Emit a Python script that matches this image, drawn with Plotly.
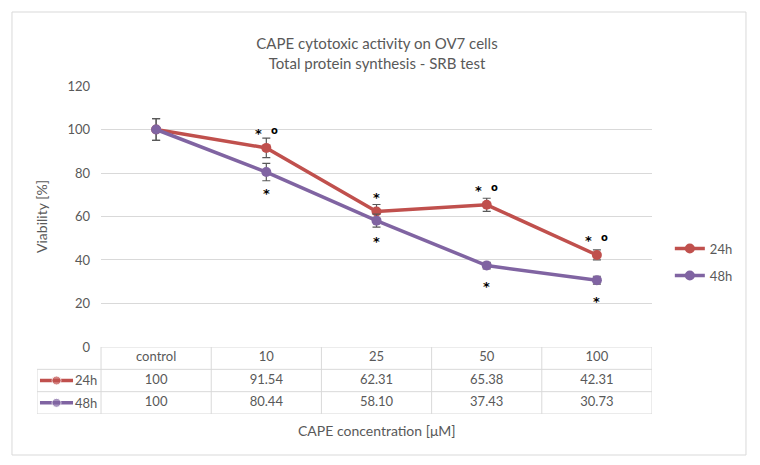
import plotly.graph_objects as go

# --- DATA ---
conc = ["control", "10", "25", "50", "100"]
series = ["24h", "48h"]
v24 = [100, 91.54, 62.31, 65.38, 42.31]
v48 = [100, 80.44, 58.10, 37.43, 30.73]
err24 = [5, 4.5, 3.2, 3, 2.3]
err48 = [5, 4, 3, 1.5, 1.8]
# significance marks: * vs control, o vs 48h
sig24 = ["", "* o", "*", "* o", "* o"]
sig48 = ["", "*", "*", "*", "*"]
yticks = [0, 20, 40, 60, 80, 100, 120]

# --- STYLE ---
COLORS = {"24h": "#C0504D", "48h": "#8064A2"}
GREY = "#595959"
GRID = "#D9D9D9"
FONT = "Lato"

xs = list(range(len(conc)))
vals = {"24h": v24, "48h": v48}
errs = {"24h": err24, "48h": err48}
sigs = {"24h": sig24, "48h": sig48}
sig_dir = {"24h": 1, "48h": -1}   # marks above / below the points
row_of = {"24h": 1, "48h": 0}     # table rows (header = 2)
KEY_LEFT = -1.081                  # left edge of legend-key column of the table

fig = go.Figure()

# --- main lines ---
for s in series:
    fig.add_trace(go.Scatter(
        x=xs, y=vals[s], name=s, legendgroup=s,
        mode="lines+markers",
        line=dict(color=COLORS[s], width=3.5),
        marker=dict(color=COLORS[s], size=10),
        error_y=dict(type="data", array=errs[s], color=GREY, thickness=1.2, width=4),
        xaxis="x", yaxis="y",
    ))
    # significance marks
    for x, v, mark in zip(xs, vals[s], sigs[s]):
        both = "*" in mark and "o" in mark
        if "*" in mark:
            ys = 14 if sig_dir[s] > 0 else -21
            fig.add_annotation(x=x, y=v, xref="x", yref="y", text="<b>*</b>", showarrow=False,
                               xshift=-8 if both else 0, yshift=ys,
                               font=dict(family="DejaVu Sans", size=13, color="black"))
        if "o" in mark:
            fig.add_annotation(x=x, y=v, xref="x", yref="y", text="<b>o</b>", showarrow=False,
                               xshift=8, yshift=17,
                               font=dict(family="DejaVu Sans", size=10, color="black"))

# --- data table below ---
fig.add_trace(go.Scatter(
    x=xs, y=[2] * len(conc), text=conc, mode="text",
    textfont=dict(family=FONT, size=13, color=GREY),
    xaxis="x2", yaxis="y2", showlegend=False, hoverinfo="skip",
))
for s in series:
    fig.add_trace(go.Scatter(
        x=xs, y=[row_of[s]] * len(conc),
        text=["100" if v == 100 else f"{v:.2f}" for v in vals[s]],
        mode="text", textfont=dict(family=FONT, size=13, color=GREY),
        xaxis="x2", yaxis="y2", showlegend=False, hoverinfo="skip",
    ))
    # legend key in the table's first column
    fig.add_trace(go.Scatter(
        x=[-1.054, -0.904, -0.754], y=[row_of[s]] * 3,
        mode="lines+markers", line=dict(color=COLORS[s], width=3.5),
        marker=dict(color=COLORS[s], size=[0, 9, 0]),
        xaxis="x2", yaxis="y2", showlegend=False, hoverinfo="skip",
    ))
    fig.add_annotation(x=-0.754, y=row_of[s], xref="x2", yref="y2", text=s,
                       showarrow=False, xanchor="left",
                       font=dict(family=FONT, size=13, color=GREY))

# table borders
line = dict(color=GRID, width=1)
fig.add_shape(type="line", xref="x2", yref="y2", x0=-0.5, x1=4.5, y0=2.5, y1=2.5, line=line)
for yb in [1.5, 0.5, -0.5]:
    fig.add_shape(type="line", xref="x2", yref="y2", x0=KEY_LEFT, x1=4.5, y0=yb, y1=yb, line=line)
fig.add_shape(type="line", xref="x2", yref="y2", x0=KEY_LEFT, x1=KEY_LEFT, y0=-0.5, y1=1.5, line=line)
for xb in [i - 0.5 for i in range(len(conc) + 1)]:
    fig.add_shape(type="line", xref="x2", yref="y2", x0=xb, x1=xb, y0=-0.5, y1=2.5, line=line)

# outer chart frame
fig.add_shape(type="rect", xref="paper", yref="paper",
              x0=-0.0407, x1=1.1528, y0=-0.125, y1=1.2256,
              line=dict(color=GRID, width=1), layer="below")

fig.add_annotation(x=2, y=0, xref="x2", yref="paper", yanchor="top", yshift=-6,
                   text="CAPE concentration [\u03bcM]", showarrow=False,
                   font=dict(family=FONT, size=14, color=GREY))

fig.update_layout(
    width=752, height=457,
    margin=dict(l=29, r=108, t=78, b=51),
    paper_bgcolor="white", plot_bgcolor="white",
    font=dict(family=FONT, size=13, color=GREY),
    title=dict(text="CAPE cytotoxic activity on OV7 cells<br>Total protein synthesis - SRB test",
               x=0.4907, xanchor="center", y=0.91, yanchor="middle",
               font=dict(family=FONT, size=15, color=GREY)),
    xaxis=dict(domain=[0.1041, 1], range=[-0.5, 4.5], showticklabels=False,
               showgrid=False, zeroline=False, showline=False, anchor="y"),
    yaxis=dict(domain=[0.2043, 1], range=[0, 120], tickvals=yticks,
               gridcolor=GRID, gridwidth=1, zeroline=False, showline=False,
               ticklabelstandoff=10, tickfont=dict(size=13, color=GREY),
               title=dict(text="Viability [%]", standoff=16, font=dict(size=14, color=GREY)),
               anchor="x"),
    xaxis2=dict(domain=[0, 1], range=[KEY_LEFT, 4.5], visible=False, anchor="y2"),
    yaxis2=dict(domain=[0, 0.2043], range=[-0.5, 2.5], visible=False, anchor="x2"),
    legend=dict(x=1.029, y=0.55, xanchor="left", yanchor="top",
                font=dict(family=FONT, size=13, color=GREY),
                tracegroupgap=7, itemwidth=30, bgcolor="rgba(0,0,0,0)"),
    showlegend=True,
)

fig.write_html("out.html")
